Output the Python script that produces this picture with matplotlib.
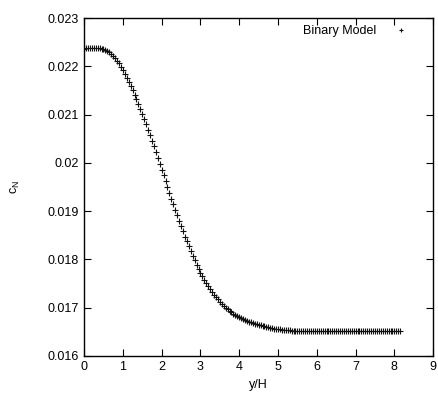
import matplotlib
matplotlib.use("Agg")
import matplotlib.pyplot as plt

plt.rcParams["font.family"] = ["Liberation Sans", "DejaVu Sans"]
plt.rcParams["mathtext.fontset"] = "custom"
plt.rcParams["mathtext.rm"] = "Liberation Sans"

y_over_h = [
    0.00, 0.05, 0.10, 0.15, 0.20, 0.25, 0.30, 0.35, 0.40, 0.45,
    0.50, 0.55, 0.60, 0.65, 0.70, 0.75, 0.80, 0.85, 0.90, 0.95,
    1.00, 1.05, 1.10, 1.15, 1.20, 1.25, 1.30, 1.35, 1.40, 1.45,
    1.50, 1.55, 1.60, 1.65, 1.70, 1.75, 1.80, 1.85, 1.90, 1.95,
    2.00, 2.05, 2.10, 2.15, 2.20, 2.25, 2.30, 2.35, 2.40, 2.45,
    2.50, 2.55, 2.60, 2.65, 2.70, 2.75, 2.80, 2.85, 2.90, 2.95,
    3.00, 3.05, 3.10, 3.15, 3.20, 3.25, 3.30, 3.35, 3.40, 3.45,
    3.50, 3.55, 3.60, 3.65, 3.70, 3.75, 3.80, 3.85, 3.90, 3.95,
    4.00, 4.05, 4.10, 4.15, 4.20, 4.25, 4.30, 4.35, 4.40, 4.45,
    4.50, 4.55, 4.60, 4.65, 4.70, 4.75, 4.80, 4.85, 4.90, 4.95,
    5.00, 5.05, 5.10, 5.15, 5.20, 5.25, 5.30, 5.35, 5.40, 5.45,
    5.50, 5.55, 5.60, 5.65, 5.70, 5.75, 5.80, 5.85, 5.90, 5.95,
    6.00, 6.05, 6.10, 6.15, 6.20, 6.25, 6.30, 6.35, 6.40, 6.45,
    6.50, 6.55, 6.60, 6.65, 6.70, 6.75, 6.80, 6.85, 6.90, 6.95,
    7.00, 7.05, 7.10, 7.15, 7.20, 7.25, 7.30, 7.35, 7.40, 7.45,
    7.50, 7.55, 7.60, 7.65, 7.70, 7.75, 7.80, 7.85, 7.90, 7.95,
    8.00, 8.05, 8.10, 8.15,
]
c_n = [
    0.02237, 0.02238, 0.02238, 0.02238, 0.02239, 0.02239, 0.02239, 0.02239, 0.02238, 0.02237,
    0.02236, 0.02234, 0.02232, 0.02229, 0.02226, 0.02222, 0.02217, 0.02212, 0.02206, 0.02199,
    0.02192, 0.02184, 0.02176, 0.02168, 0.02159, 0.02150, 0.02141, 0.02132, 0.02122, 0.02112,
    0.02102, 0.02091, 0.02080, 0.02069, 0.02058, 0.02046, 0.02034, 0.02022, 0.02010, 0.01998,
    0.01986, 0.01974, 0.01962, 0.01950, 0.01938, 0.01926, 0.01914, 0.01902, 0.01891, 0.01880,
    0.01869, 0.01858, 0.01847, 0.01837, 0.01827, 0.01817, 0.01807, 0.01798, 0.01789, 0.01780,
    0.01772, 0.01765, 0.01758, 0.01751, 0.01745, 0.01739, 0.01733, 0.01727, 0.01722, 0.01717,
    0.01712, 0.01708, 0.01704, 0.01700, 0.01696, 0.01693, 0.01690, 0.01687, 0.01684, 0.01682,
    0.01680, 0.01678, 0.01676, 0.01674, 0.01672, 0.01671, 0.01669, 0.01668, 0.01666, 0.01665,
    0.01664, 0.01663, 0.01662, 0.01661, 0.01660, 0.01659, 0.01658, 0.01657, 0.01656, 0.01656,
    0.01655, 0.01655, 0.01654, 0.01654, 0.01653, 0.01653, 0.01653, 0.01652, 0.01652, 0.01652,
    0.01652, 0.01651, 0.01651, 0.01652, 0.01651, 0.01651, 0.01651, 0.01652, 0.01651, 0.01651,
    0.01651, 0.01651, 0.01652, 0.01651, 0.01651, 0.01651, 0.01651, 0.01652, 0.01651, 0.01651,
    0.01651, 0.01651, 0.01651, 0.01652, 0.01651, 0.01651, 0.01651, 0.01651, 0.01652, 0.01651,
    0.01651, 0.01651, 0.01651, 0.01651, 0.01652, 0.01651, 0.01651, 0.01651, 0.01651, 0.01652,
    0.01651, 0.01651, 0.01651, 0.01651, 0.01651, 0.01652, 0.01651, 0.01651, 0.01651, 0.01651,
    0.01651, 0.01651, 0.01651, 0.01651,
]

x_ticks = [0, 1, 2, 3, 4, 5, 6, 7, 8, 9]
y_ticks = [0.016, 0.017, 0.018, 0.019, 0.02, 0.021, 0.022, 0.023]
y_tick_labels = ["0.016", "0.017", "0.018", "0.019", "0.02", "0.021", "0.022", "0.023"]

fig = plt.figure(figsize=(4.38, 3.94), dpi=100)
ax = fig.add_axes([0.192, 0.097, 0.797, 0.857])

ax.plot(y_over_h, c_n, linestyle="none", marker="+", markersize=4.5,
        markeredgewidth=0.8, color="#111111", label="Binary Model")

ax.set_xlim(0, 9)
ax.set_ylim(0.016, 0.023)
ax.set_xticks(x_ticks)
ax.set_xticklabels([str(t) for t in x_ticks])
ax.set_yticks(y_ticks)
ax.set_yticklabels(y_tick_labels)
ax.tick_params(direction="in", length=5, width=0.8, top=True, right=True,
               labelsize=9, pad=4)
for s in ax.spines.values():
    s.set_linewidth(1.0)

ax.set_xlabel("y/H", fontsize=9, labelpad=4)
ax.set_ylabel(r"c$_\mathrm{N}$", fontsize=9, labelpad=18)

ax.legend(loc="upper right", bbox_to_anchor=(0.943, 0.994), borderaxespad=0,
          frameon=False, markerfirst=False, fontsize=9,
          handlelength=1.2, handletextpad=1.4, markerscale=0.6)

fig.savefig("out.png", dpi=100)
